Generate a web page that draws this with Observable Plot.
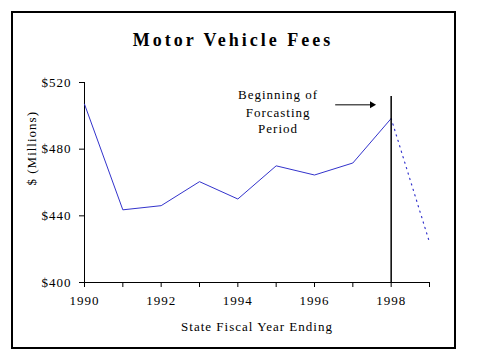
<!DOCTYPE html>
<html>
<head>
<meta charset="utf-8">
<script src="https://cdn.jsdelivr.net/npm/d3@7"></script>
<script src="https://cdn.jsdelivr.net/npm/@observablehq/plot@0.6"></script>
<style>
  html, body { margin: 0; padding: 0; background: white; }
  #wrap { position: relative; width: 479px; height: 359px; }
  #border { position: absolute; left: 11px; top: 11px; width: 445px; height: 338px; border: 2px solid black; box-sizing: border-box; pointer-events: none; }
  #wrap svg text { letter-spacing: 1px; }
</style>
</head>
<body>
<div id="wrap"><div id="border"></div></div>
<script>
const years = [1990, 1991, 1992, 1993, 1994, 1995, 1996, 1997, 1998, 1999];
const fees = [507, 443.6, 446.1, 460.5, 450.1, 470, 464.5, 471.7, 498.4, 424.1];
const forecastStart = 1998;
const yTicks = [400, 440, 480, 520];
const xLabelYears = [1990, 1992, 1994, 1996, 1998];
const title = "Motor Vehicle Fees";
const xTitle = "State Fiscal Year Ending";
const yTitle = "$ (Millions)";
const noteLines = ["Beginning of", "Forcasting", "Period"];
const noteYs = [512.6, 502.1, 492.5];
const noteX = 1995.05;
const markerTop = 511.6;
const arrowFrom = 1996.54, arrowTo = 1997.5, arrowY = 506.6;

const data = years.map((year, i) => ({year, fee: fees[i]}));
const actual = data.filter(d => d.year <= forecastStart);
const forecast = data.filter(d => d.year >= forecastStart);
const notes = noteLines.map((t, i) => ({t, y: noteYs[i]}));

const blue = "#3333cc";
const chart = Plot.plot({
  width: 479,
  height: 359,
  marginLeft: 84,
  marginRight: 50,
  marginTop: 82,
  marginBottom: 77,
  x: {domain: [1990, 1999]},
  y: {domain: [400, 520]},
  style: {fontFamily: "Liberation Serif", fontSize: "13px", background: "transparent", color: "black"},
  marks: [
    Plot.axisY({ticks: yTicks, tickFormat: d => "$" + d, tickSize: 5, tickPadding: 8, label: null, stroke: "black", fontSize: 13}),
    Plot.axisX({ticks: years, tickFormat: d => xLabelYears.includes(d) ? String(d) : "", tickSize: 5, tickPadding: 8, label: null, stroke: "black", fontSize: 13}),
    Plot.ruleX([1990], {stroke: "black"}),
    Plot.ruleY([400], {stroke: "black"}),
    Plot.line(actual, {x: "year", y: "fee", stroke: blue, strokeWidth: 1}),
    Plot.line(forecast, {x: "year", y: "fee", stroke: blue, strokeWidth: 1.2, strokeDasharray: "1.2,4.5"}),
    Plot.ruleX([forecastStart], {y1: 400, y2: markerTop, stroke: "black", strokeWidth: 1.5}),
    Plot.link([{x1: arrowFrom, x2: arrowTo, y: arrowY}], {x1: "x1", x2: "x2", y1: "y", y2: "y", stroke: "black", strokeWidth: 1}),
    Plot.dot([{x: arrowTo, y: arrowY}], {x: "x", y: "y", symbol: "triangle", rotate: 90, r: 2.6, fill: "black", stroke: "none"}),
    Plot.text(notes, {x: () => noteX, y: "y", text: "t", fontSize: 13, fill: "black"}),
    Plot.text([title], {frameAnchor: "top", dx: -24, dy: -37, lineAnchor: "bottom", fontSize: 18, fontWeight: "bold", fill: "black"}),
    Plot.text([xTitle], {frameAnchor: "bottom", dx: 0, dy: 44, lineAnchor: "middle", fontSize: 13, fill: "black"}),
    Plot.text([yTitle], {frameAnchor: "left", dx: -53, dy: 3, rotate: -90, fontSize: 13, fill: "black"})
  ]
});
d3.select(chart).selectAll("text").filter(function() { return this.textContent === title; }).style("letter-spacing", "3px");
document.getElementById("wrap").prepend(chart);
</script>
</body>
</html>
